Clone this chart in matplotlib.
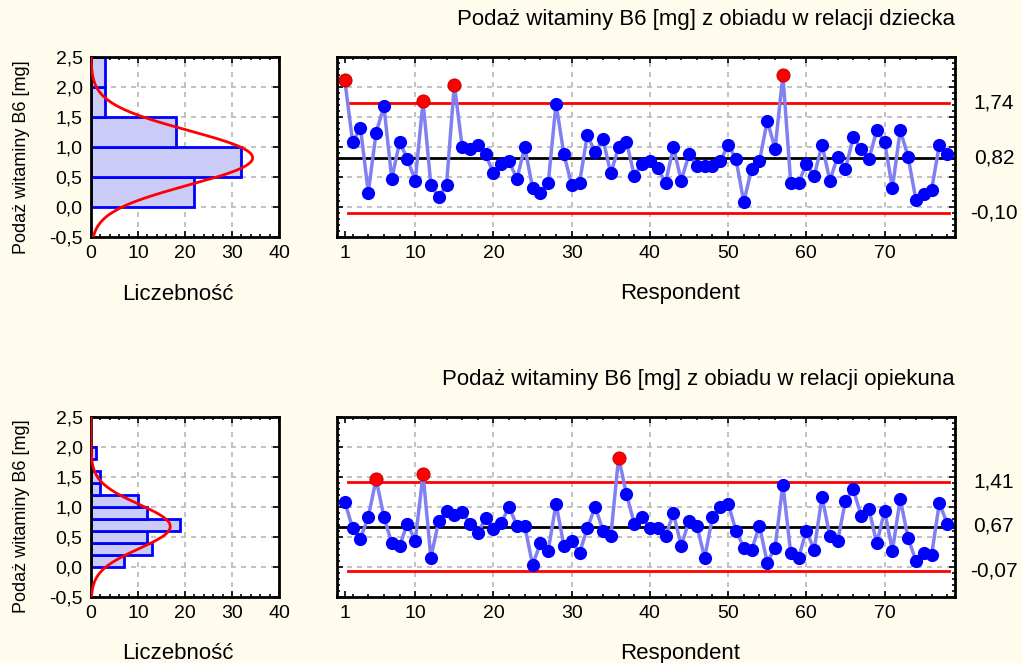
import numpy as np
import matplotlib.pyplot as plt
from matplotlib.ticker import MultipleLocator, FuncFormatter

plt.rcParams['font.family'] = ['Liberation Sans', 'DejaVu Sans']

BG = "#fffcee"

# vitamin B6 intake per respondent [mg]
child_b6 = [2.11, 1.08, 1.32, 0.24, 1.24, 1.68, 0.47, 1.08, 0.80, 0.44,
            1.76, 0.37, 0.16, 0.37, 2.04, 1.00, 0.97, 1.04, 0.88, 0.56,
            0.72, 0.76, 0.47, 1.00, 0.32, 0.24, 0.40, 1.72, 0.88, 0.37,
            0.40, 1.20, 0.91, 1.13, 0.56, 1.00, 1.09, 0.52, 0.72, 0.76,
            0.65, 0.40, 1.00, 0.44, 0.88, 0.68, 0.68, 0.68, 0.76, 1.04,
            0.80, 0.08, 0.64, 0.76, 1.44, 0.97, 2.20, 0.40, 0.40, 0.72,
            0.52, 1.04, 0.44, 0.84, 0.64, 1.16, 0.97, 0.80, 1.28, 1.08,
            0.32, 1.28, 0.84, 0.12, 0.21, 0.28, 1.04, 0.88]
carer_b6 = [1.08, 0.64, 0.47, 0.83, 1.46, 0.83, 0.39, 0.35, 0.72, 0.43,
            1.54, 0.15, 0.76, 0.93, 0.87, 0.92, 0.71, 0.56, 0.81, 0.63,
            0.73, 1.00, 0.68, 0.68, 0.03, 0.39, 0.27, 1.05, 0.35, 0.43,
            0.23, 0.64, 1.00, 0.60, 0.51, 1.82, 1.21, 0.72, 0.83, 0.64,
            0.64, 0.51, 0.89, 0.35, 0.76, 0.68, 0.15, 0.83, 1.00, 1.05,
            0.60, 0.32, 0.28, 0.68, 0.07, 0.32, 1.37, 0.23, 0.15, 0.60,
            0.28, 1.17, 0.51, 0.43, 1.10, 1.29, 0.85, 0.96, 0.39, 0.93,
            0.27, 1.13, 0.48, 0.10, 0.23, 0.19, 1.06, 0.72]

# LCL, centre line, UCL
child_limits = [-0.10, 0.82, 1.74]
carer_limits = [-0.07, 0.67, 1.41]

child_edges = [0.0, 0.5, 1.0, 1.5, 2.0, 2.5]
child_counts = [22, 32, 18, 3, 3]
carer_edges = [0.0, 0.2, 0.4, 0.6, 0.8, 1.0, 1.2, 1.4, 1.6, 1.8, 2.0]
carer_counts = [7, 13, 12, 19, 12, 10, 2, 2, 0, 1]

titles = ["Podaż witaminy B6 [mg] z obiadu w relacji dziecka",
          "Podaż witaminy B6 [mg] z obiadu w relacji opiekuna"]

W, H = 1022, 663
comma = FuncFormatter(lambda v, p: f"{v:.1f}".replace(".", ","))
TICK_FS = 14
LABEL_FS = 16
TITLE_FS = 16


def px_axes(fig, left, top, right, bottom):
    return fig.add_axes([left / W, 1 - bottom / H, (right - left) / W, (bottom - top) / H])


def frame(ax):
    ax.set_facecolor("white")
    for s in ax.spines.values():
        s.set_linewidth(2)
        s.set_color("black")
    ax.tick_params(which="both", direction="in", top=True, right=True,
                   labelsize=TICK_FS, width=1.2, pad=6)
    ax.tick_params(which="major", length=4)
    ax.tick_params(which="minor", length=2.5)


def grid(ax, xs, ys):
    for x in xs:
        ax.axvline(x, color="#b8b8b8", ls=(0, (3, 3)), lw=1.2, zorder=0.5)
    for y in ys:
        ax.axhline(y, color="#b8b8b8", ls=(0, (3, 3)), lw=1.2, zorder=0.5)


def draw_row(fig, top, values, limits, edges, counts, title, ylab_y, title_y):
    bottom = top + 180
    values = np.array(values)
    n = len(values)

    # histogram with fitted normal curve
    hx = px_axes(fig, 91, top, 279, bottom)
    frame(hx)
    widths = np.diff(edges)
    hx.barh(edges[:-1], counts, height=widths, align="edge", color="#cbcbf7",
            edgecolor="#0000ff", lw=2, zorder=2)
    yy = np.linspace(-0.5, 2.5, 400)
    mu = limits[1]
    sd = values.std(ddof=1)
    curve = n * widths[0] * np.exp(-0.5 * ((yy - mu) / sd) ** 2) / (sd * np.sqrt(2 * np.pi))
    hx.plot(curve, yy, color="#ff0000", lw=2, zorder=3)
    hx.set_xlim(0, 40)
    hx.set_ylim(-0.5, 2.5)
    hx.set_xticks([0, 10, 20, 30, 40])
    hx.xaxis.set_minor_locator(MultipleLocator(2))
    hx.yaxis.set_major_locator(MultipleLocator(0.5))
    hx.yaxis.set_major_formatter(comma)
    grid(hx, [10, 20, 30], [0.0, 0.5, 1.0, 1.5, 2.0])
    fig.text(178 / W, 1 - (bottom + 57) / H, "Liczebność", ha="center", va="center", fontsize=LABEL_FS)
    fig.text(22 / W, 1 - ylab_y / H, "Podaż witaminy B6 [mg]", rotation=90,
             ha="center", va="center", fontsize=13)

    # individuals control chart
    cx = px_axes(fig, 337, top, 955, bottom)
    frame(cx)
    idx = np.arange(1, n + 1)
    lcl, cl, ucl = limits
    grid(cx, [10, 20, 30, 40, 50, 60, 70], [0.0, 0.5, 1.0, 1.5, 2.0])
    cx.plot([0, 79], [cl, cl], color="black", lw=2, zorder=2)
    cx.plot([1.4, n + 0.2], [ucl, ucl], color="#ff0000", lw=2, zorder=2)
    cx.plot([1.4, n + 0.2], [lcl, lcl], color="#ff0000", lw=2, zorder=2)
    cx.plot(idx, values, color="#8080f2", lw=2.5, zorder=3)
    out = (values > ucl) | (values < lcl)
    cx.plot(idx[~out], values[~out], "o", color="#0000ff", ms=9.5, mew=0, zorder=4)
    cx.plot(idx[out], values[out], "o", color="#ff0000", ms=9.5, mec="#b00000", mew=0.6, zorder=4)
    cx.set_xlim(0, 79)
    cx.set_ylim(-0.5, 2.5)
    cx.set_xticks([1, 10, 20, 30, 40, 50, 60, 70])
    cx.xaxis.set_minor_locator(MultipleLocator(2))
    cx.yaxis.set_major_locator(MultipleLocator(0.5))
    cx.yaxis.set_minor_locator(MultipleLocator(0.1))
    cx.tick_params(axis="y", labelleft=False)
    for v in limits:
        cx.text(1.063, v, f"{v:.2f}".replace(".", ","), transform=cx.get_yaxis_transform(),
                ha="center", va="center", fontsize=15)
    fig.text(680 / W, 1 - (bottom + 57) / H, "Respondent", ha="center", va="center", fontsize=LABEL_FS)
    fig.text(955 / W, 1 - title_y / H, title, ha="right", va="center", fontsize=TITLE_FS)


fig = plt.figure(figsize=(W / 100, H / 100), dpi=100, facecolor=BG)
draw_row(fig, 57, child_b6, child_limits, child_edges, child_counts, titles[0], 157, 20)
draw_row(fig, 416.7, carer_b6, carer_limits, carer_edges, carer_counts, titles[1], 516, 380)
fig.savefig("out.png", dpi=100, facecolor=BG)
